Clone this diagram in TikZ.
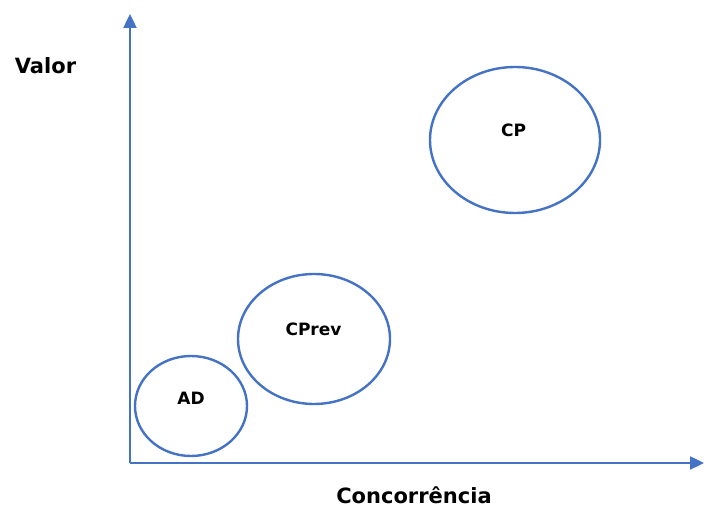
\documentclass[tikz,border=0pt]{standalone}
\usepackage{fontspec}
\setmainfont{DejaVu Sans}
\usetikzlibrary{arrows.meta,shapes.geometric}
\definecolor{axisblue}{RGB}{68,114,196}
\tikzset{
  axis/.style={draw=axisblue,line width=2.4pt,-{Triangle[length=14pt,width=13pt]}},
  blob/.style={ellipse,draw=axisblue,line width=2.4pt,inner sep=0pt},
  axislabel/.style={anchor=base,font=\fontsize{21}{25}\selectfont\bfseries},
  blablabel/.style={anchor=base,font=\fontsize{17}{20}\selectfont\bfseries}
}
\begin{document}
\begin{tikzpicture}[x=1pt,y=1pt]
        \useasboundingbox (0,0) rectangle (704,509);

        % Define the axes
        \coordinate (O) at (130,46);
        \coordinate (Ytop) at (130,495);
        \coordinate (Xend) at (704,46);
        \node[axislabel] (valor) at (45.5,435) {Valor};
        \node[axislabel] (conc) at (414,6) {Concorrência};

        % Define the regions
        \node[blob,minimum width=170pt,minimum height=146pt] (CP) at (515,369) {};
        \node[blob,minimum width=152pt,minimum height=130pt] (CPrev) at (314,170) {};
        \node[blob,minimum width=112pt,minimum height=100pt] (AD) at (191,103) {};

        \node[blablabel] (cplab) at (513.5,372) {CP};
        \node[blablabel] (cprevlab) at (313.5,173) {CPrev};
        \node[blablabel] (adlab) at (191,104) {AD};

        % Draw axes
        \draw[axis] (O) -- (Ytop);
        \draw[axis] (O) -- (Xend);
\end{tikzpicture}
\end{document}
